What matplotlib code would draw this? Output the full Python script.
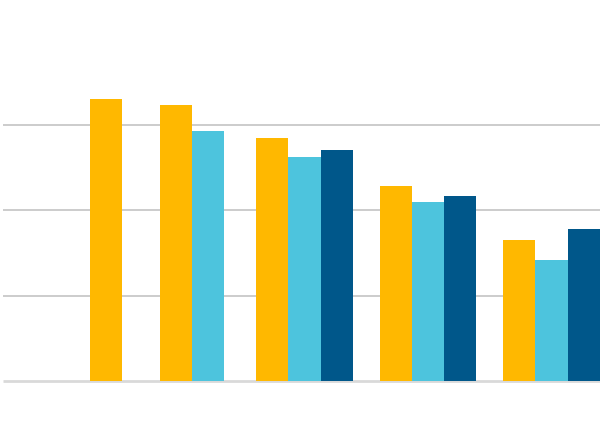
import numpy as np
import matplotlib.pyplot as plt

# values per group (no labels shown in the chart)
series_a = [33.1, 32.4, 28.5, 22.8, 16.5]          # orange
series_b = [np.nan, 29.3, 26.3, 21.0, 14.2]        # light blue
series_c = [np.nan, np.nan, 27.1, 21.7, 17.8]      # dark blue
grid_values = [10, 20, 30]

colors = ["#FFB800", "#4DC4DD", "#00578A"]

# layout: group centres in pixel-like x units, bar width
centres = [106, 192, 304.5, 428, 551.5]
width = 32.3

fig = plt.figure(figsize=(6, 4.28), dpi=100)
ax = fig.add_axes([0, 0, 1, 1])

ax.hlines(grid_values, 3, 600, color="#c4c4c4", linewidth=1.2, zorder=1)
ax.hlines(0, 3, 600, color="#d9d9d9", linewidth=2, zorder=1)

series = [series_a, series_b, series_c]
for i, c in enumerate(centres):
    vals = [s[i] for s in series if not np.isnan(s[i])]
    n = len(vals)
    offsets = (np.arange(n) - (n - 1) / 2) * width
    for j, v in enumerate(vals):
        ax.bar(c + offsets[j], v, width=width, color=colors[j],
               linewidth=0, zorder=2)

ax.set_xlim(0, 600)
ax.set_ylim(-5.51, 44.65)
ax.axis("off")

fig.savefig("out.png", dpi=100)
